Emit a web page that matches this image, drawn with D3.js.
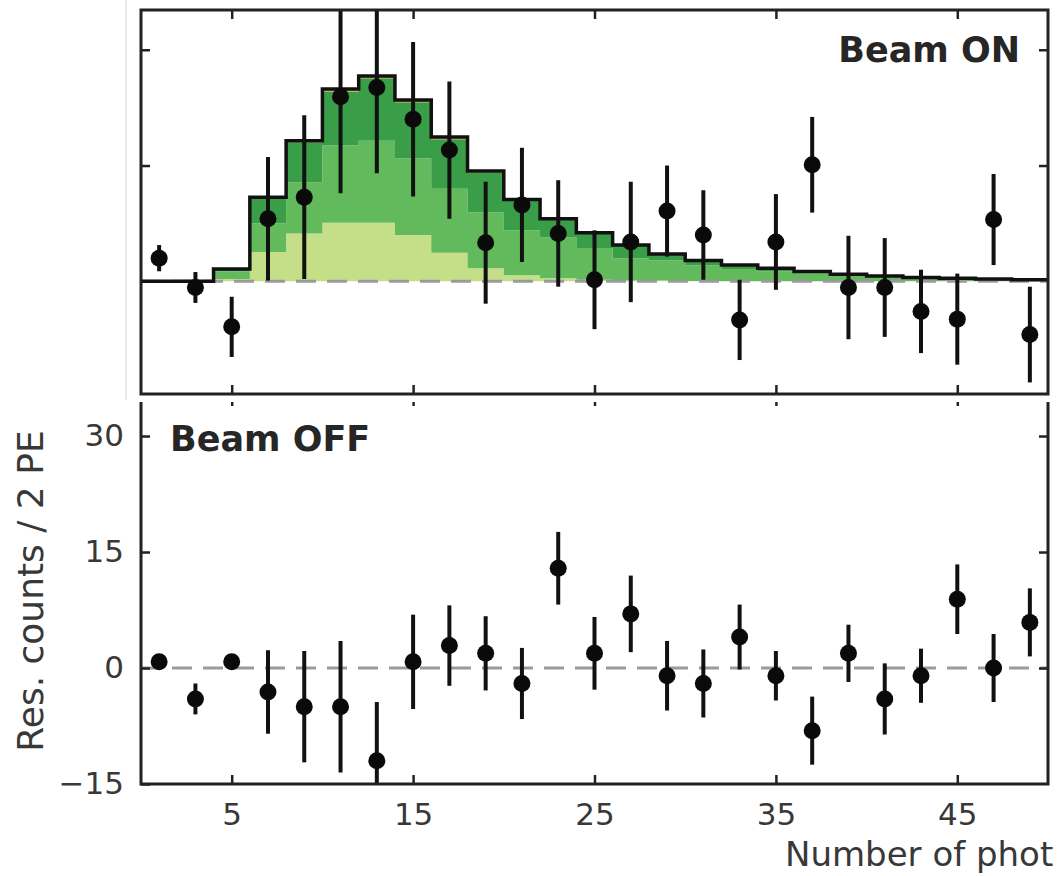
<!DOCTYPE html>
<html>
<head>
<meta charset="utf-8">
<script src="https://cdn.jsdelivr.net/npm/d3@7"></script>
<style>
  body { margin: 0; background: #fff; }
  svg { display: block; font-family: "DejaVu Sans", sans-serif; }
</style>
</head>
<body>
<div id="chart"></div>
<script>
// bins of 2 PE, centres
const binCenters = [1, 3, 5, 7, 9, 11, 13, 15, 17, 19, 21, 23, 25, 27, 29, 31, 33, 35, 37, 39, 41, 43, 45, 47, 49];

// stacked prediction components (beam ON)
const lightPart  = [0, 0, 0.3, 3.8, 6.2, 7.6, 7.6, 6.0, 3.7, 1.7, 0.8, 0.4, 0.2, 0.1, 0.1, 0.05, 0, 0, 0, 0, 0, 0, 0, 0, 0];
const midPart    = [0, 0, 1.0, 3.7, 6.6, 10.0, 10.6, 9.9, 8.3, 7.2, 5.8, 5.3, 4.1, 2.9, 2.6, 2.0, 1.6, 1.3, 1.0, 0.7, 0.55, 0.4, 0.3, 0.25, 0.15];
const darkPart   = [0, 0, 0.3, 3.2, 5.2, 7.0, 8.1, 7.3, 6.4, 5.2, 3.8, 2.3, 1.9, 1.6, 0.8, 0.6, 0.45, 0.35, 0.25, 0.18, 0.13, 0.09, 0.08, 0.04, 0.04];
const orangePart = [0, 0, 0, 0.2, 0.2, 0.3, 0.3, 0.3, 0.3, 0.2, 0.2, 0.1, 0.1, 0.1, 0.05, 0.05, 0.05, 0.05, 0.02, 0.02, 0.02, 0.01, 0.01, 0.01, 0.01];

// residual counts
const onValues  = [3.0, -0.8, -5.9, 8.1, 10.9, 23.9, 25.1, 21.0, 17.0, 5.0, 9.9, 6.2, 0.2, 5.1, 9.1, 6.0, -5.0, 5.1, 15.1, -0.8, -0.8, -3.9, -4.9, 8.0, -6.9];
const onErrors  = [1.7, 2.0, 3.9, 8.0, 10.6, 12.5, 11.1, 10.0, 8.9, 7.9, 7.4, 6.9, 6.4, 7.8, 5.9, 5.8, 5.2, 6.2, 6.2, 6.7, 6.4, 5.4, 5.9, 5.9, 6.2];
const offValues = [0.8, -4.0, 0.8, -3.1, -5.0, -5.0, -12.0, 0.8, 2.9, 1.9, -2.0, 12.9, 1.9, 7.0, -1.0, -2.0, 4.0, -1.0, -8.1, 1.9, -4.0, -1.0, 8.9, 0.0, 5.9];
const offErrors = [0.6, 2.0, 0.6, 5.4, 7.2, 8.5, 7.6, 6.1, 5.2, 4.8, 4.6, 4.7, 4.7, 4.95, 4.5, 4.4, 4.2, 3.2, 4.4, 3.7, 4.6, 3.5, 4.5, 4.4, 4.4];

const xTicks = [5, 15, 25, 35, 45];
const yTicks = [-15, 0, 15, 30];

const layerKeys = ["light", "mid", "dark", "orange"];
const layerColors = ["#c4df88", "#62ba5c", "#3a9d48", "#e89a3c"];

const width = 1063, height = 876;
const binHalf = 1;

var svg = d3.select("#chart")
    .append("svg")
    .attr("width", width)
    .attr("height", height);

var x = d3.scaleLinear().domain([0, 50]).range([141, 1048]);
var yTop = d3.scaleLinear().domain([-14.6, 35.15]).range([394, 10]);
var yBot = d3.scaleLinear().domain([-15, 34.4]).range([784, 402]);

// faint edge of the cropped figure
svg.append("line")
    .attr("x1", 126).attr("x2", 126)
    .attr("y1", 0).attr("y2", 400)
    .attr("stroke", "#e2e2e2")
    .attr("stroke-width", 1.5);

svg.append("defs").selectAll("clipPath")
    .data([["clipTop", yTop], ["clipBot", yBot]])
    .enter()
    .append("clipPath")
    .attr("id", d => d[0])
    .append("rect")
    .attr("x", x.range()[0])
    .attr("y", d => d[1].range()[1])
    .attr("width", x.range()[1] - x.range()[0])
    .attr("height", d => d[1].range()[0] - d[1].range()[1]);

// ---------- top panel: beam ON ----------
var topPanel = svg.append("g");
var topPlot = topPanel.append("g").attr("clip-path", "url(#clipTop)");

var rows = binCenters.map((c, i) => ({
    x0: c - binHalf,
    light: lightPart[i],
    mid: midPart[i],
    dark: darkPart[i],
    orange: orangePart[i]
}));
// extra point closing the last bin for the step curve
var last = rows[rows.length - 1];
rows.push(Object.assign({}, last, { x0: binCenters[binCenters.length - 1] + binHalf }));

var stack = d3.stack().keys(layerKeys);
var layers = stack(rows);

var area = d3.area()
    .curve(d3.curveStepAfter)
    .x(d => x(d.data.x0))
    .y0(d => yTop(d[0]))
    .y1(d => yTop(d[1]));

topPlot.selectAll("path.layer")
    .data(layers)
    .enter()
    .append("path")
    .attr("class", "layer")
    .attr("d", area)
    .attr("fill", (d, i) => layerColors[i]);

// zero line
topPlot.append("line")
    .attr("x1", x(0)).attr("x2", x(50))
    .attr("y1", yTop(0)).attr("y2", yTop(0))
    .attr("stroke", "#9a9a9a")
    .attr("stroke-width", 3)
    .attr("stroke-dasharray", "20,11");

// total prediction outline
var totalLine = d3.line()
    .curve(d3.curveStepAfter)
    .x(d => x(d.x0))
    .y(d => yTop(d.light + d.mid + d.dark + d.orange));

topPlot.append("path")
    .datum(rows)
    .attr("d", totalLine)
    .attr("fill", "none")
    .attr("stroke", "#111")
    .attr("stroke-width", 3.5);

function drawPoints(g, yScale, vals, errs) {
    var pts = binCenters.map((c, i) => ({ c: c, v: vals[i], e: errs[i] }));
    g.selectAll("line.err")
        .data(pts)
        .enter()
        .append("line")
        .attr("class", "err")
        .attr("x1", d => x(d.c)).attr("x2", d => x(d.c))
        .attr("y1", d => yScale(d.v - d.e))
        .attr("y2", d => yScale(d.v + d.e))
        .attr("stroke", "#111")
        .attr("stroke-width", 4);
    g.selectAll("circle.pt")
        .data(pts)
        .enter()
        .append("circle")
        .attr("class", "pt")
        .attr("cx", d => x(d.c))
        .attr("cy", d => yScale(d.v))
        .attr("r", 8.5)
        .attr("fill", "#0a0a0a");
}

drawPoints(topPlot, yTop, onValues, onErrors);

// ticks (inward, no labels)
function tickStyle(g) {
    g.select(".domain").remove();
    g.selectAll(".tick line").attr("stroke", "#222").attr("stroke-width", 2.5);
    g.selectAll(".tick text").remove();
}

topPanel.append("g")
    .attr("transform", `translate(${x(0)},0)`)
    .call(d3.axisLeft(yTop).tickValues([15, 30]).tickSizeInner(-9).tickSizeOuter(0))
    .call(tickStyle);
topPanel.append("g")
    .attr("transform", `translate(${x(50)},0)`)
    .call(d3.axisRight(yTop).tickValues([15, 30]).tickSizeInner(-9).tickSizeOuter(0))
    .call(tickStyle);
topPanel.append("g")
    .attr("transform", `translate(0,${yTop.range()[1]})`)
    .call(d3.axisTop(x).tickValues(xTicks).tickSizeInner(-9).tickSizeOuter(0))
    .call(tickStyle);
topPanel.append("g")
    .attr("transform", `translate(0,${yTop.range()[0]})`)
    .call(d3.axisBottom(x).tickValues(xTicks).tickSizeInner(-9).tickSizeOuter(0))
    .call(tickStyle);

topPanel.append("rect")
    .attr("x", x(0))
    .attr("y", yTop.range()[1])
    .attr("width", x(50) - x(0))
    .attr("height", yTop.range()[0] - yTop.range()[1])
    .attr("fill", "none")
    .attr("stroke", "#222")
    .attr("stroke-width", 3);

topPanel.append("text")
    .attr("x", 1020)
    .attr("y", 62)
    .attr("text-anchor", "end")
    .style("font-size", "35px")
    .style("font-weight", "bold")
    .style("fill", "#262626")
    .text("Beam ON");

// ---------- bottom panel: beam OFF ----------
var botPanel = svg.append("g");
var botPlot = botPanel.append("g").attr("clip-path", "url(#clipBot)");

botPlot.append("line")
    .attr("x1", x(0)).attr("x2", x(50))
    .attr("y1", yBot(0)).attr("y2", yBot(0))
    .attr("stroke", "#9a9a9a")
    .attr("stroke-width", 3)
    .attr("stroke-dasharray", "20,11");

drawPoints(botPlot, yBot, offValues, offErrors);

var yAxis = botPanel.append("g")
    .attr("transform", `translate(${x(0)},0)`)
    .call(d3.axisLeft(yBot).tickValues(yTicks).tickSizeInner(-9).tickSizeOuter(0).tickPadding(17));
yAxis.select(".domain").remove();
yAxis.selectAll(".tick line").attr("stroke", "#222").attr("stroke-width", 2.5);
yAxis.selectAll(".tick text")
    .style("font-size", "31px")
    .style("font-family", "DejaVu Sans, sans-serif")
    .style("fill", "#383838");

var xAxis = botPanel.append("g")
    .attr("transform", `translate(0,${yBot.range()[0]})`)
    .call(d3.axisBottom(x).tickValues(xTicks).tickSizeInner(-9).tickSizeOuter(0).tickPadding(19));
xAxis.select(".domain").remove();
xAxis.selectAll(".tick line").attr("stroke", "#222").attr("stroke-width", 2.5);
xAxis.selectAll(".tick text")
    .style("font-size", "31px")
    .style("font-family", "DejaVu Sans, sans-serif")
    .style("fill", "#383838");

botPanel.append("g")
    .attr("transform", `translate(${x(50)},0)`)
    .call(d3.axisRight(yBot).tickValues([0, 15, 30]).tickSizeInner(-9).tickSizeOuter(0))
    .call(tickStyle);
botPanel.append("g")
    .attr("transform", `translate(0,${yBot.range()[1]})`)
    .call(d3.axisTop(x).tickValues(xTicks).tickSizeInner(-4).tickSizeOuter(0))
    .call(tickStyle);

// frame: left, bottom, right (top edge hidden under upper panel)
botPanel.append("path")
    .attr("d", `M${x(0)},${yBot.range()[1]}V${yBot.range()[0]}H${x(50)}V${yBot.range()[1]}`)
    .attr("fill", "none")
    .attr("stroke", "#222")
    .attr("stroke-width", 3);

botPanel.append("text")
    .attr("x", 170)
    .attr("y", 451)
    .style("font-size", "35px")
    .style("font-weight", "bold")
    .style("fill", "#262626")
    .text("Beam OFF");

// axis titles
svg.append("text")
    .attr("transform", "translate(43,591)rotate(-90)")
    .attr("text-anchor", "middle")
    .style("font-size", "36px")
    .style("fill", "#383838")
    .text("Res. counts / 2 PE");

svg.append("text")
    .attr("x", 785)
    .attr("y", 866)
    .style("font-size", "34px")
    .style("fill", "#383838")
    .text("Number of phot");
</script>
</body>
</html>
